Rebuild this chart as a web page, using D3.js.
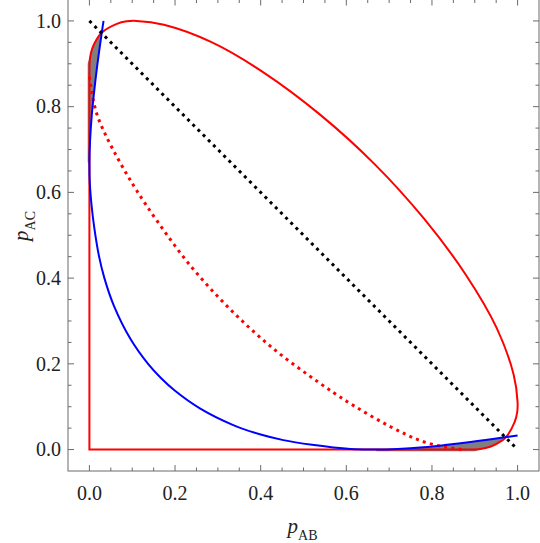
<!DOCTYPE html>
<html lang="en">
<head>
<meta charset="utf-8">
<title>p_AB vs p_AC</title>
<script src="https://cdn.jsdelivr.net/npm/d3@7"></script>
<style>
  body { margin: 0; background: #fff; }
</style>
</head>
<body>
<div id="chart"></div>
<script>
// axis ticks
const majorTicks = [0, 0.2, 0.4, 0.6, 0.8, 1.0];
const minorTicks = [0.05, 0.1, 0.15, 0.25, 0.3, 0.35, 0.45, 0.5, 0.55, 0.65, 0.7, 0.75, 0.85, 0.9, 0.95];
const tickLabels = ["0.0", "0.2", "0.4", "0.6", "0.8", "1.0"];

// red solid: the two axis legs and the outer arc (p_AB, p_AC)
const redLegs = [[0, 0.885], [0, 0], [0.885, 0]];
const redArc = [
  [0, 0.885], [0.0014, 0.913], [0.0067, 0.936], [0.0157, 0.955], [0.028, 0.972],
  [0.064, 0.993], [0.087, 0.999], [0.11, 1.0], [0.174, 0.991], [0.284, 0.951],
  [0.408, 0.879], [0.538, 0.782], [0.666, 0.666], [0.782, 0.538], [0.879, 0.408],
  [0.951, 0.284], [0.991, 0.174], [1.0, 0.11], [0.999, 0.087], [0.993, 0.064],
  [0.972, 0.028], [0.955, 0.0157], [0.936, 0.0067], [0.913, 0.0014], [0.885, 0]
];

// red dotted curve
const redDotted = [
  [0, 0.87], [0.003, 0.85], [0.009, 0.815], [0.02, 0.775], [0.035, 0.74],
  [0.055, 0.70], [0.08, 0.655], [0.11, 0.605], [0.157, 0.535], [0.235, 0.43],
  [0.328, 0.328], [0.43, 0.235], [0.535, 0.157], [0.605, 0.11], [0.655, 0.08],
  [0.70, 0.055], [0.74, 0.035], [0.775, 0.02], [0.815, 0.009], [0.85, 0.003], [0.87, 0]
];

// blue curve
const blueCurve = [
  [0.033, 1.0], [0.0285, 0.97], [0.0175, 0.89], [0.0105, 0.83], [0.0055, 0.78],
  [0.0015, 0.72], [0, 0.67], [0.001, 0.62], [0.005, 0.57], [0.011, 0.52],
  [0.022, 0.453], [0.035, 0.40], [0.057, 0.336], [0.096, 0.258], [0.137, 0.2],
  [0.167, 0.167], [0.2, 0.137], [0.258, 0.096], [0.336, 0.057], [0.40, 0.035],
  [0.453, 0.022], [0.52, 0.011], [0.57, 0.005], [0.62, 0.001], [0.67, 0],
  [0.72, 0.0015], [0.78, 0.0055], [0.83, 0.0105], [0.89, 0.0175], [0.97, 0.0285],
  [1.0, 0.033]
];

// black dotted diagonal
const diagonal = [[0, 1], [1, 0]];

// gray regions between blue and red
const grayTop = [
  [-0.004, 0.67], [0, 0.67], [0.0015, 0.72], [0.0055, 0.78], [0.0105, 0.83],
  [0.0175, 0.89], [0.0285, 0.97], [0.0157, 0.955], [0.0067, 0.936], [-0.004, 0.9]
];
const grayBottom = [
  [0.67, -0.004], [0.67, 0], [0.72, 0.0015], [0.78, 0.0055], [0.83, 0.0105],
  [0.89, 0.0175], [0.97, 0.0285], [0.955, 0.0157], [0.936, 0.0067], [0.9, -0.004]
];

const width = 540, height = 543;
const x = d3.scaleLinear().domain([-0.05, 1.05]).range([68, 539]);
const y = d3.scaleLinear().domain([-0.05, 1.05]).range([471, -0.5]);
const serif = "'Liberation Serif', 'Times New Roman', 'DejaVu Serif', serif";

const svg = d3.select("#chart").append("svg")
  .attr("width", width)
  .attr("height", height)
  .style("font-family", serif);

const frameColor = "#6b6b6b";

// frame
svg.append("rect")
  .attr("x", x(-0.05)).attr("y", y(1.05))
  .attr("width", x(1.05) - x(-0.05))
  .attr("height", y(-0.05) - y(1.05))
  .attr("fill", "none")
  .attr("stroke", frameColor)
  .attr("stroke-width", 1);

// ticks on all four sides, pointing inward
const ticks = svg.append("g").attr("stroke", frameColor).attr("stroke-width", 1);
function sideTicks(vals, len) {
  vals.forEach(v => {
    ticks.append("line").attr("x1", x(v)).attr("x2", x(v)).attr("y1", y(-0.05)).attr("y2", y(-0.05) - len);
    ticks.append("line").attr("x1", x(v)).attr("x2", x(v)).attr("y1", y(1.05)).attr("y2", y(1.05) + len);
    ticks.append("line").attr("y1", y(v)).attr("y2", y(v)).attr("x1", x(-0.05)).attr("x2", x(-0.05) + len);
    ticks.append("line").attr("y1", y(v)).attr("y2", y(v)).attr("x1", x(1.05)).attr("x2", x(1.05) - len);
  });
}
sideTicks(majorTicks, 6);
sideTicks(minorTicks, 3.5);

// tick labels
svg.append("g").selectAll("text")
  .data(majorTicks)
  .join("text")
  .attr("x", d => x(d))
  .attr("y", 500)
  .attr("text-anchor", "middle")
  .attr("font-size", 20)
  .attr("fill", "#222")
  .style("font-family", serif)
  .text((d, i) => tickLabels[i]);

svg.append("g").selectAll("text")
  .data(majorTicks)
  .join("text")
  .attr("x", 61)
  .attr("y", d => y(d) + 6.8)
  .attr("text-anchor", "end")
  .attr("font-size", 20)
  .attr("fill", "#222")
  .style("font-family", serif)
  .text((d, i) => tickLabels[i]);

// axis titles
const xt = svg.append("text")
  .attr("x", 302.5).attr("y", 533)
  .attr("text-anchor", "middle")
  .attr("fill", "#222")
  .style("font-family", serif);
xt.append("tspan").attr("font-style", "italic").attr("font-size", 21).text("p");
xt.append("tspan").attr("font-size", 14).attr("dy", 6.5).text("AB");

const yt = svg.append("text")
  .attr("transform", "translate(28,226) rotate(-90)")
  .attr("text-anchor", "middle")
  .attr("fill", "#222")
  .style("font-family", serif);
yt.append("tspan").attr("font-style", "italic").attr("font-size", 21).text("p");
yt.append("tspan").attr("font-size", 14).attr("dy", 6.5).text("AC");

// line generators
const smooth = d3.line().x(d => x(d[0])).y(d => y(d[1])).curve(d3.curveCatmullRom.alpha(0.5));
const straight = d3.line().x(d => x(d[0])).y(d => y(d[1]));
const closed = d3.line().x(d => x(d[0])).y(d => y(d[1])).curve(d3.curveLinearClosed);

// gray fills
[grayTop, grayBottom].forEach(g => {
  svg.append("path").attr("d", closed(g)).attr("fill", "#7f7f7f").attr("stroke", "none");
});

// red solid
svg.append("path").attr("d", straight(redLegs))
  .attr("fill", "none").attr("stroke", "#ff0000").attr("stroke-width", 2);
svg.append("path").attr("d", smooth(redArc))
  .attr("fill", "none").attr("stroke", "#ff0000").attr("stroke-width", 2);

// red dotted
svg.append("path").attr("d", smooth(redDotted))
  .attr("fill", "none").attr("stroke", "#ff0000").attr("stroke-width", 3)
  .attr("stroke-dasharray", "3,4.3");

// blue
svg.append("path").attr("d", smooth(blueCurve))
  .attr("fill", "none").attr("stroke", "#0000ff").attr("stroke-width", 2);

// black dotted diagonal
svg.append("path").attr("d", straight(diagonal))
  .attr("fill", "none").attr("stroke", "#000").attr("stroke-width", 3)
  .attr("stroke-dasharray", "3,4.3");
</script>
</body>
</html>
